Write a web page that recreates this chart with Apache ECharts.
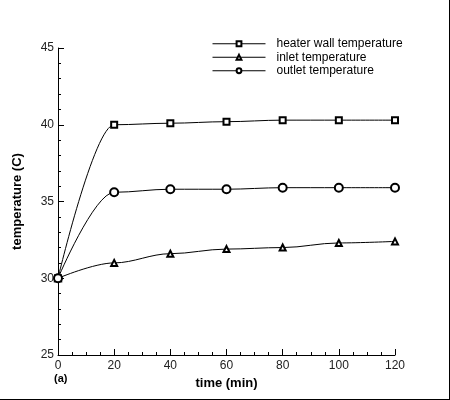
<!DOCTYPE html>
<html>
<head>
<meta charset="utf-8">
<script src="https://cdn.jsdelivr.net/npm/echarts@6/dist/echarts.min.js"></script>
<style>
html,body{margin:0;padding:0;background:#fff;}
#c{width:449px;height:399px;border-right:1px solid #000;border-bottom:1px solid #000;}
</style>
</head>
<body>
<div id="c"></div>
<script>
const times = [0, 20, 40, 60, 80, 100, 120];
const heaterWall = [30, 40.0, 40.1, 40.2, 40.3, 40.3, 40.3];
const inlet = [30, 31.0, 31.6, 31.9, 32.0, 32.3, 32.4];
const outlet = [30, 35.6, 35.8, 35.8, 35.9, 35.9, 35.9];
const seriesNames = ['heater wall temperature', 'inlet temperature', 'outlet temperature'];

const chart = echarts.init(document.getElementById('c'));
const font = 'Arial, "Liberation Sans", sans-serif';
function mk(name, vals, sym, size) {
  return {
    name: name, type: 'line',
    data: times.map((t, i) => [t, vals[i]]),
    smooth: 0.35, smoothMonotone: 'x',
    symbol: sym, symbolSize: size,
    lineStyle: {color: '#000', width: 1},
    itemStyle: {color: '#000', borderColor: '#000', borderWidth: 0.7},
    emphasis: {disabled: true},
    animation: false
  };
}
chart.setOption({
  animation: false,
  grid: {left: 58, right: 54, top: 48, bottom: 44},
  legend: {
    orient: 'vertical', left: 212, top: 37, padding: 0,
    itemWidth: 53, itemHeight: 6, itemGap: 0,
    lineStyle: {width: 1, color: '#000'},
    itemStyle: {borderWidth: 0.7},
    textStyle: {fontFamily: font, fontSize: 12, color: '#000', lineHeight: 13.5, padding: [0, 0, 0, 6]},
    data: seriesNames
  },
  xAxis: {
    type: 'value', min: 0, max: 120, interval: 20,
    name: 'time (min)', nameLocation: 'middle', nameGap: 22,
    nameTextStyle: {fontFamily: font, fontSize: 13, fontWeight: 'bold', color: '#000'},
    axisLine: {lineStyle: {color: '#000', width: 1}},
    axisTick: {inside: true, length: 6, lineStyle: {color: '#000'}},
    minorTick: {show: true, splitNumber: 4, length: 3, lineStyle: {color: '#000'}},
    axisLabel: {fontFamily: font, fontSize: 12, color: '#222', margin: 5},
    splitLine: {show: false}
  },
  yAxis: {
    type: 'value', min: 25, max: 45, interval: 5,
    name: 'temperature (C)', nameLocation: 'middle', nameGap: 34,
    nameTextStyle: {fontFamily: font, fontSize: 13, fontWeight: 'bold', color: '#000'},
    axisLine: {show: true, lineStyle: {color: '#000', width: 1}},
    axisTick: {show: true, inside: true, length: 6, lineStyle: {color: '#000'}},
    minorTick: {show: true, splitNumber: 5, length: 3, lineStyle: {color: '#000'}},
    axisLabel: {fontFamily: font, fontSize: 12, color: '#222', margin: 4},
    splitLine: {show: false}
  },
  graphic: [{
    type: 'text', left: 54, top: 373,
    style: {text: '(a)', font: 'bold 11px Arial, "Liberation Sans", sans-serif', fill: '#000'}
  }],
  series: [
    mk(seriesNames[0], heaterWall, 'emptyRect', 6),
    mk(seriesNames[1], inlet, 'emptyTriangle', 6),
    mk(seriesNames[2], outlet, 'emptyCircle', 8)
  ]
});
</script>
</body>
</html>
